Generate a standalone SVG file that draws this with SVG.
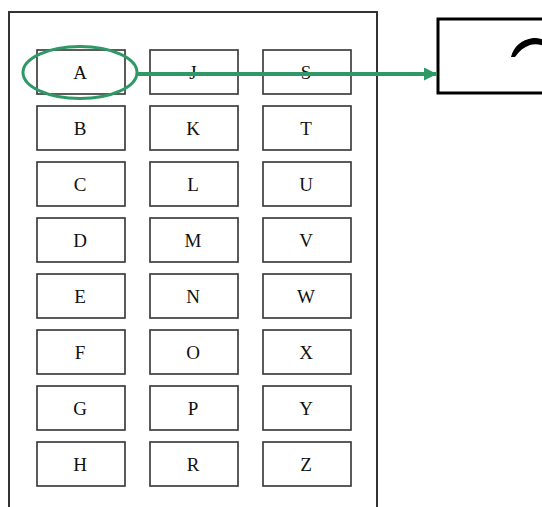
<svg xmlns="http://www.w3.org/2000/svg" width="542" height="507" viewBox="0 0 542 507">
<style>
.box rect{fill:#fff;stroke:#333;stroke-width:1.6}
.box text{font-family:"Liberation Serif","Times New Roman",serif;font-size:19px;fill:#111;text-anchor:middle;dominant-baseline:central}
</style>
<defs>
<marker id="ah" markerWidth="13" markerHeight="13" refX="13" refY="6.5" orient="auto" markerUnits="userSpaceOnUse">
<path d="M0,0 L13,6.5 L0,13 Z" fill="#2e9966"/>
</marker>
</defs>
<rect width="542" height="507" fill="#fff"/>
<path id="frame" d="M9,515 V12 H377 V515" fill="none" stroke="#333" stroke-width="2"/>
<g id="nodes">
<g id="nA" class="box"><rect x="37" y="50" width="88" height="44"/><text x="80" y="72">A</text></g>
<g id="nB" class="box"><rect x="37" y="106" width="88" height="44"/><text x="80" y="128">B</text></g>
<g id="nC" class="box"><rect x="37" y="162" width="88" height="44"/><text x="80" y="184">C</text></g>
<g id="nD" class="box"><rect x="37" y="218" width="88" height="44"/><text x="80" y="240">D</text></g>
<g id="nE" class="box"><rect x="37" y="274" width="88" height="44"/><text x="80" y="296">E</text></g>
<g id="nF" class="box"><rect x="37" y="330" width="88" height="44"/><text x="80" y="352">F</text></g>
<g id="nG" class="box"><rect x="37" y="386" width="88" height="44"/><text x="80" y="408">G</text></g>
<g id="nH" class="box"><rect x="37" y="442" width="88" height="44"/><text x="80" y="464">H</text></g>
<g id="nJ" class="box"><rect x="150" y="50" width="88" height="44"/><text x="193" y="72">J</text></g>
<g id="nK" class="box"><rect x="150" y="106" width="88" height="44"/><text x="193" y="128">K</text></g>
<g id="nL" class="box"><rect x="150" y="162" width="88" height="44"/><text x="193" y="184">L</text></g>
<g id="nM" class="box"><rect x="150" y="218" width="88" height="44"/><text x="193" y="240">M</text></g>
<g id="nN" class="box"><rect x="150" y="274" width="88" height="44"/><text x="193" y="296">N</text></g>
<g id="nO" class="box"><rect x="150" y="330" width="88" height="44"/><text x="193" y="352">O</text></g>
<g id="nP" class="box"><rect x="150" y="386" width="88" height="44"/><text x="193" y="408">P</text></g>
<g id="nR" class="box"><rect x="150" y="442" width="88" height="44"/><text x="193" y="464">R</text></g>
<g id="nS" class="box"><rect x="263" y="50" width="88" height="44"/><text x="306" y="72">S</text></g>
<g id="nT" class="box"><rect x="263" y="106" width="88" height="44"/><text x="306" y="128">T</text></g>
<g id="nU" class="box"><rect x="263" y="162" width="88" height="44"/><text x="306" y="184">U</text></g>
<g id="nV" class="box"><rect x="263" y="218" width="88" height="44"/><text x="306" y="240">V</text></g>
<g id="nW" class="box"><rect x="263" y="274" width="88" height="44"/><text x="306" y="296">W</text></g>
<g id="nX" class="box"><rect x="263" y="330" width="88" height="44"/><text x="306" y="352">X</text></g>
<g id="nY" class="box"><rect x="263" y="386" width="88" height="44"/><text x="306" y="408">Y</text></g>
<g id="nZ" class="box"><rect x="263" y="442" width="88" height="44"/><text x="306" y="464">Z</text></g>
<g id="target">
<rect x="438" y="19" width="110" height="74" fill="#fff" stroke="#000" stroke-width="3"/>
<path d="M511,57 C514,46 521,40 533,38 C538,38 542,39 544,40 L544,46 C539,44 534,44 530,45 C524,47 519,51 515,57 Z" fill="#000"/>
</g>
</g>
<g id="connectors">
<ellipse cx="80" cy="72.5" rx="57" ry="26" fill="none" stroke="#2e9966" stroke-width="3"/>
<line x1="137" y1="74" x2="437" y2="74" stroke="#2e9966" stroke-width="4" marker-end="url(#ah)"/>
</g>
</svg>
